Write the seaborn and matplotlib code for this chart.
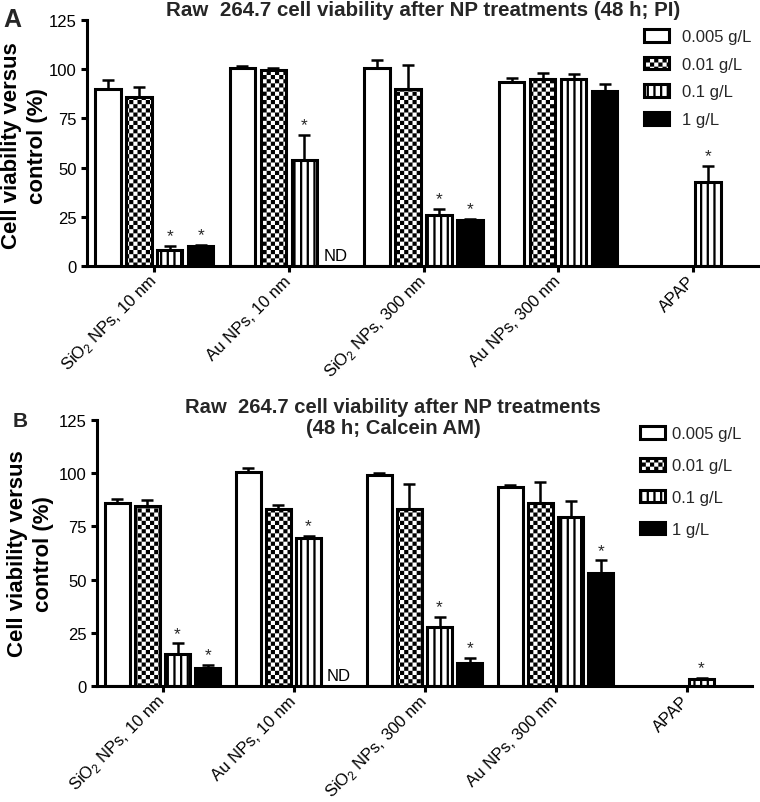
import warnings
import numpy as np
import pandas as pd
import matplotlib
matplotlib.use('Agg')
import matplotlib.pyplot as plt
import matplotlib.patches as mpatches
from matplotlib import hatch as mhatch
from matplotlib.path import Path
import seaborn as sns

warnings.filterwarnings('ignore')

nan = np.nan
groups = [r'SiO$_\mathregular{2}$ NPs, 10 nm', 'Au NPs, 10 nm',
          r'SiO$_\mathregular{2}$ NPs, 300 nm', 'Au NPs, 300 nm', 'APAP']
concs = ['0.005 g/L', '0.01 g/L', '0.1 g/L', '1 g/L']

# panel A - PI
pi_005 = [90, 100.5, 100.5, 93.5, nan]
pi_001 = [86, 99.5, 90, 95, nan]
pi_01 = [8, 54, 26, 95, 42.5]
pi_1 = [10.3, nan, 23.5, 89, nan]
pi_err_005 = [4.6, 1.0, 4.3, 2.0, nan]
pi_err_001 = [5.0, 1.2, 12.0, 3.0, nan]
pi_err_01 = [2.0, 12.5, 3.0, 2.5, 8.5]
pi_err_1 = [0.3, nan, 0.3, 3.5, nan]
pi_star_01 = [1, 1, 1, 0, 1]
pi_star_1 = [1, 0, 1, 0, 0]

# panel B - Calcein AM
ca_005 = [86, 100.5, 99, 93.75, nan]
ca_001 = [84.5, 83, 83, 86, nan]
ca_01 = [15, 69.5, 27.5, 79.5, 3.2]
ca_1 = [8.5, nan, 11, 53, nan]
ca_err_005 = [2.0, 2.0, 1.0, 0.5, nan]
ca_err_001 = [3.0, 2.0, 12.0, 10.0, nan]
ca_err_01 = [5.0, 0.8, 5.0, 7.5, 0.5]
ca_err_1 = [1.5, nan, 2.0, 6.0, nan]
ca_star_01 = [1, 1, 1, 0, 1]
ca_star_1 = [1, 0, 1, 1, 0]

nd_group = 1  # Au NPs, 10 nm at 1 g/L not determined


# GraphPad style fills: checkerboard and vertical stripes
class CheckerHatch(mhatch.HatchPatternBase):
    def __init__(self, hatch, density):
        self.n = hatch.count('c') * 4
        self.num_vertices = self.n * self.n // 2 * 5

    def set_vertices_and_codes(self, vertices, codes):
        s = 1.0 / self.n
        sq = [[(i * s, j * s), ((i + 1) * s, j * s), ((i + 1) * s, (j + 1) * s),
               (i * s, (j + 1) * s), (i * s, j * s)]
              for i in range(self.n) for j in range(self.n) if (i + j) % 2 == 0]
        vertices[:] = np.array(sq).reshape(-1, 2)
        codes[:] = np.tile([Path.MOVETO, Path.LINETO, Path.LINETO, Path.LINETO,
                            Path.CLOSEPOLY], len(sq))


class StripeHatch(mhatch.HatchPatternBase):
    def __init__(self, hatch, density):
        self.n = hatch.count('s') * 5
        self.num_vertices = self.n * 5

    def set_vertices_and_codes(self, vertices, codes):
        s = 1.0 / self.n
        w = 0.34 * s
        rects = [[(k * s, 0), (k * s + w, 0), (k * s + w, 1), (k * s, 1), (k * s, 0)]
                 for k in range(self.n)]
        vertices[:] = np.array(rects).reshape(-1, 2)
        codes[:] = np.tile([Path.MOVETO, Path.LINETO, Path.LINETO, Path.LINETO,
                            Path.CLOSEPOLY], len(rects))


mhatch._hatch_types.extend([CheckerHatch, StripeHatch])

sns.set_theme(style='ticks')
plt.rcParams['font.family'] = ['Liberation Sans', 'DejaVu Sans']
plt.rcParams['mathtext.fontset'] = 'custom'
plt.rcParams['mathtext.rm'] = 'Liberation Sans'
plt.rcParams['hatch.linewidth'] = 0.01

faces = ['white', 'white', 'white', 'black']
hatches = ['', 'cccccc', 'sss', '']
LW = 2.2

fig = plt.figure(figsize=(7.6, 8.03), dpi=100)
W, H = 760, 803


def panel(rect, vals, errs, stars, leg_xy, leg_space, leg_pad):
    ax = fig.add_axes(rect)
    rows = [(g, c, v) for c, arr in zip(concs, vals) for g, v in zip(groups, arr)
            if not np.isnan(v)]
    df = pd.DataFrame(rows, columns=['group', 'conc', 'value'])
    sns.barplot(data=df, x='group', y='value', hue='conc', order=groups,
                hue_order=concs, palette=dict(zip(concs, faces)), edgecolor='black',
                linewidth=LW, width=0.92, gap=0.18, errorbar=None, saturation=1,
                legend=False, ax=ax)

    xs, ys, es = [], [], []
    for k, cont in enumerate(list(ax.containers)):
        for bar in cont:
            bar.set_hatch(hatches[k])
            cx = bar.get_x() + bar.get_width() / 2
            gi = int(round(cx))
            v, e = vals[k][gi], errs[k][gi]
            xs.append(cx)
            ys.append(v)
            es.append(e)
            if k >= 2 and stars[k - 2][gi]:
                ax.annotate('*', (cx, v + e), xytext=(0, 2), textcoords='offset points',
                            ha='center', va='bottom', fontsize=12.5)
    ax.errorbar(xs, ys, yerr=[np.zeros(len(es)), es], fmt='none', ecolor='black',
                elinewidth=1.8, capsize=4.3, capthick=1.8, zorder=3)

    # ND label in the empty 1 g/L slot
    slot = 0.92 / 4
    ax.text(nd_group + 1.5 * slot, 1.5, 'ND', ha='center', va='bottom', fontsize=12,
            color='black')

    ax.set_xlim(-0.5, 4.5)
    ax.set_ylim(0, 125)
    ax.set_yticks(range(0, 126, 25))
    ax.set_xlabel('')
    ax.set_ylabel('Cell viability versus\ncontrol (%)', fontsize=16, fontweight='bold',
                  color='black', linespacing=1.3)
    sns.despine(ax=ax)
    for sp in ['left', 'bottom']:
        ax.spines[sp].set_linewidth(LW)
        ax.spines[sp].set_color('black')
    ax.tick_params(axis='both', width=LW, length=4.5, color='black', labelsize=12,
                   labelcolor='black', pad=3)
    ax.tick_params(axis='x', labelsize=12, pad=4)
    for lbl in ax.get_xticklabels():
        lbl.set_rotation(45)
        lbl.set_ha('right')
        lbl.set_va('center')
        lbl.set_rotation_mode('anchor')

    handles = [mpatches.Patch(facecolor=f, edgecolor='black', hatch=h, linewidth=LW, label=c)
               for f, h, c in zip(faces, hatches, concs)]
    ax.legend(handles=handles, loc='upper left', bbox_to_anchor=leg_xy,
              bbox_transform=fig.transFigure, frameon=False, fontsize=12,
              handlelength=1.5, handleheight=0.8, handletextpad=leg_pad,
              labelspacing=leg_space, borderpad=0, borderaxespad=0)
    return ax


axA = panel([87 / W, 1 - 267 / H, 673 / W, 246 / H],
            [pi_005, pi_001, pi_01, pi_1], [pi_err_005, pi_err_001, pi_err_01, pi_err_1],
            [pi_star_01, pi_star_1], (644 / W, 1 - 30 / H), 0.75, 0.8)
axB = panel([97 / W, 1 - 687 / H, 655 / W, 266 / H],
            [ca_005, ca_001, ca_01, ca_1], [ca_err_005, ca_err_001, ca_err_01, ca_err_1],
            [ca_star_01, ca_star_1], (640 / W, 1 - 427 / H), 1.0, 0.45)

axA.yaxis.set_label_coords(48 / W, 1 - 146 / H, transform=fig.transFigure)
axB.yaxis.set_label_coords(54 / W, 1 - 554 / H, transform=fig.transFigure)

fig.text(423 / W, 1 - 10 / H, 'Raw  264.7 cell viability after NP treatments (48 h; PI)',
         ha='center', va='center', fontsize=14.8, fontweight='bold')
fig.text(393 / W, 1 - 418 / H, 'Raw  264.7 cell viability after NP treatments\n(48 h; Calcein AM)',
         ha='center', va='center', fontsize=14.6, fontweight='bold', multialignment='center',
         linespacing=1.1)
fig.text(3 / W, 1 - 20 / H, 'A', ha='left', va='center', fontsize=18, fontweight='bold')
fig.text(13 / W, 1 - 422 / H, 'B', ha='left', va='center', fontsize=15, fontweight='bold')

fig.savefig('out.png', dpi=100)
